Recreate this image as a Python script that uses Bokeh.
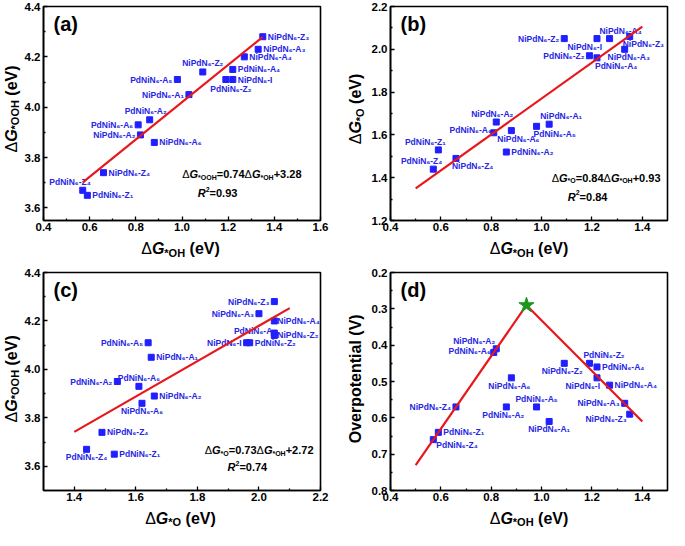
import math
from bokeh.plotting import figure
from bokeh.models import ColumnDataSource, Label, FixedTicker, PrintfTickFormatter, Range1d
from bokeh.layouts import column, row
from bokeh.embed import file_html
from bokeh.resources import INLINE
from bokeh.core.properties import value, field

FONT = "Liberation Sans"
BLUE = "#1f1fff"
BLUE_TXT = "#2626e6"
RED = "#e8171c"
GREEN = "#1e961e"

# ---------------- data ----------------
names = ["NiPdN₆-Z₃", "NiPdN₆-A₃", "NiPdN₆-A₄", "PdNiN₆-A₄", "NiPdN₆-I", "PdNiN₆-Z₂",
         "NiPdN₆-Z₂", "PdNiN₆-A₅", "NiPdN₆-A₁", "PdNiN₆-A₂", "PdNiN₆-A₆", "NiPdN₆-A₂",
         "NiPdN₆-A₆", "NiPdN₆-Z₄", "PdNiN₆-Z₄", "PdNiN₆-Z₁"]

# panel (a): dG*OH vs dG*OOH
a_x = [1.35, 1.33, 1.27, 1.22, 1.22, 1.19, 1.09, 0.98, 1.03, 0.86, 0.81, 0.82, 0.88, 0.66, 0.57, 0.59]
a_y = [4.28, 4.23, 4.20, 4.15, 4.11, 4.11, 4.14, 4.11, 4.05, 3.95, 3.93, 3.89, 3.86, 3.74, 3.67, 3.65]
# panel (b): dG*OH vs dG*O
b_x = [1.35, 1.33, 1.27, 1.22, 1.22, 1.19, 1.09, 0.98, 1.03, 0.86, 0.81, 0.82, 0.88, 0.66, 0.57, 0.59]
b_y = [2.06, 2.00, 2.05, 1.96, 2.05, 1.97, 2.05, 1.64, 1.65, 1.52, 1.61, 1.66, 1.62, 1.49, 1.44, 1.53]
# panel (c): dG*O vs dG*OOH
c_x = [2.05, 2.00, 2.05, 2.05, 1.96, 1.97, 2.05, 1.64, 1.65, 1.54, 1.61, 1.66, 1.62, 1.49, 1.44, 1.53]
c_y = [4.28, 4.23, 4.20, 4.15, 4.11, 4.11, 4.14, 4.11, 4.05, 3.95, 3.93, 3.89, 3.86, 3.74, 3.67, 3.65]
# panel (d): dG*OH vs overpotential
d_x = [1.35, 1.33, 1.27, 1.22, 1.22, 1.19, 1.09, 0.98, 1.03, 0.86, 0.81, 0.82, 0.88, 0.66, 0.57, 0.59]
d_y = [0.59, 0.56, 0.51, 0.46, 0.49, 0.45, 0.45, 0.57, 0.61, 0.57, 0.42, 0.41, 0.49, 0.57, 0.66, 0.64]

# linear fits (slope, intercept, x-from, x-to)
fit_a = [0.74, 3.28, 0.57, 1.35]
fit_b = [0.84, 0.93, 0.50, 1.40]
fit_c = [0.73, 2.72, 1.40, 2.10]
# volcano lines and apex
volcano_x = [0.50, 0.94, 1.40]
volcano_y = [0.73, 0.29, 0.61]
apex_x = [0.94]
apex_y = [0.29]

# ticks
a_xt, a_xm = [0.4, 0.6, 0.8, 1.0, 1.2, 1.4, 1.6], [0.5, 0.7, 0.9, 1.1, 1.3, 1.5]
a_yt, a_ym = [3.6, 3.8, 4.0, 4.2, 4.4], [3.7, 3.9, 4.1, 4.3]
b_xt, b_xm = [0.4, 0.6, 0.8, 1.0, 1.2, 1.4], [0.5, 0.7, 0.9, 1.1, 1.3]
b_yt, b_ym = [1.2, 1.4, 1.6, 1.8, 2.0, 2.2], [1.3, 1.5, 1.7, 1.9, 2.1]
c_xt, c_xm = [1.4, 1.6, 1.8, 2.0, 2.2], [1.5, 1.7, 1.9, 2.1]
c_yt, c_ym = [3.6, 3.8, 4.0, 4.2, 4.4], [3.7, 3.9, 4.1, 4.3]
d_xt, d_xm = [0.4, 0.6, 0.8, 1.0, 1.2, 1.4], [0.5, 0.7, 0.9, 1.1, 1.3]
d_yt, d_ym = [0.2, 0.3, 0.4, 0.5, 0.6, 0.7, 0.8], [0.25, 0.35, 0.45, 0.55, 0.65, 0.75]

# label placement (align, dx px, dy px up)
R, L = ("left", 5, 0), ("right", -5, 0)
a_off = [R, R, R, R, R, ("center", 5, -9), ("center", 0, 9), L, L, ("center", -4, 9),
         L, L, R, R, ("right", 8, 8), R]
b_off = [("left", -7, -8), ("center", 4, -8), ("center", 11, 8), ("left", -2, -8), ("right", 5, -8),
         L, L, ("left", -3, -8), ("center", 12, 8), R, ("right", -2, 3), ("center", -4, 8),
         ("center", 7, -8), ("left", -4, -8), ("right", 9, 8), ("center", -13, 8)]
c_off = [L, L, ("left", 3, 0), ("right", 2, 2), ("right", -5, 0), R, ("left", 3, 0), L, R, L,
         ("center", 0, 8), R, ("center", 0, -8), R, ("center", 0, -8), R]
d_off = [("right", -3, -5), L, R, R, ("right", 3, -8), ("left", -6, 8), ("center", -2, -8),
         ("center", 0, 8), ("center", 0, -8), ("center", -3, -8), ("right", -3, 1), ("right", -1, 8),
         ("center", -2, -8), L, ("left", 3, -5), ("left", 5, 0)]

# ---------------- helpers ----------------
CW = {"Δ": 0.667, "G": 0.778, "*": 0.389, "O": 0.778, "H": 0.722, " ": 0.278, "(": 0.333,
      ")": 0.333, "e": 0.556, "V": 0.667, "=": 0.584, "+": 0.584, ".": 0.278, "R": 0.722}


def tw(s, size):
    return sum(CW.get(c, 0.556) for c in s) * size


def rich(p, x, y, segs, align="left", angle=0.0, xo=0, yo=0):
    widths = [tw(t, s) for t, s, st, dy in segs]
    total = sum(widths)
    cur = {"left": 0, "center": -total / 2, "right": -total}[align]
    for (t, s, st, dy), w in zip(segs, widths):
        lead = tw(t[:len(t) - len(t.lstrip(" "))], s)
        pos = cur + lead
        if angle == 0:
            ox, oy = xo + pos, yo + dy
        else:
            ox, oy = xo - dy, yo + pos
        p.add_layout(Label(x=x, y=y, x_offset=ox, y_offset=oy, text=t.lstrip(" "), text_font=FONT,
                           text_font_size=f"{s}px", text_font_style=st, text_align="left",
                           text_baseline="middle", angle=angle, text_color="black"))
        cur += w


def dg(sub, S=16, s=11, tail=" (eV)"):
    return [("Δ", S, "normal", 0), ("G", S, "bold italic", 0), (sub, s, "bold", -0.28 * S),
            (tail, S, "bold", 0)]


def make_fig(w, h, bl, br, bt, bb, xr, yr, xt, xm, yt, ym):
    p = figure(width=w, height=h, x_range=Range1d(*xr), y_range=Range1d(*yr),
               output_backend="svg", toolbar_location=None,
               min_border_left=bl, min_border_right=br, min_border_top=bt, min_border_bottom=bb)
    p.grid.visible = False
    p.outline_line_color = "black"
    p.outline_line_width = 1.6
    for ax, t, m in ((p.xaxis[0], xt, xm), (p.yaxis[0], yt, ym)):
        ax.ticker = FixedTicker(ticks=t, minor_ticks=m)
        ax.formatter = PrintfTickFormatter(format="%.1f")
        ax.major_tick_in = 4
        ax.major_tick_out = 0
        ax.minor_tick_in = 2
        ax.minor_tick_out = 0
        ax.axis_line_width = 1.6
        ax.major_tick_line_width = 1.3
        ax.minor_tick_line_width = 1.3
        ax.major_label_text_font = FONT
        ax.major_label_text_font_style = "bold"
        ax.major_label_text_font_size = "11.5px"
        ax.major_label_text_color = "black"
    p.xaxis.major_label_standoff = 2
    p.yaxis.major_label_standoff = 3
    return p


def label_fig(w, h):
    f = figure(width=w, height=h, x_range=Range1d(0, w), y_range=Range1d(0, h),
               output_backend="svg", toolbar_location=None, x_axis_type=None, y_axis_type=None,
               min_border=0)
    f.outline_line_color = None
    return f


def tag(p, text):
    p.add_layout(Label(x=p.x_range.start, y=p.y_range.end, x_offset=10, y_offset=-6, text=text,
                       text_font=FONT, text_font_size="20px", text_font_style="bold",
                       text_align="left", text_baseline="top", text_color="black"))


def points(p, xs, ys, offs):
    p.scatter(xs, ys, marker="square", size=6, color=BLUE)
    src = ColumnDataSource(dict(x=xs, y=ys, text=names, align=[o[0] for o in offs],
                                dx=[o[1] for o in offs], dy=[-o[2] for o in offs]))
    p.text(x="x", y="y", text="text", source=src, x_offset="dx", y_offset="dy",
           text_align=field("align"), text_baseline="middle", text_font=value(FONT),
           text_font_size="8.5px", text_font_style="bold", text_color=BLUE_TXT)


def fit_line(p, fit):
    m, b, x0, x1 = fit
    p.line([x0, x1], [m * x0 + b, m * x1 + b], color=RED, line_width=2.2)


def equation(p, y, lhs_sub, coef, intercept, margin, r2, r2x, r2y, S=11, s=7):
    segs = [("Δ", S, "normal", 0), ("G", S, "bold italic", 0), (lhs_sub, s, "bold", -3),
            (f"={coef}", S, "bold", 0), ("Δ", S, "normal", 0), ("G", S, "bold italic", 0),
            ("*OH", s, "bold", -3), (f"+{intercept}", S, "bold", 0)]
    rich(p, p.x_range.end, y, segs, align="right", xo=-margin)
    rich(p, r2x, r2y, [("R", S, "bold italic", 0), ("2", s, "bold", 4), (f"={r2}", S, "bold", 0)])


def assemble(main, mw, mh, bl, bt, fw, fh, ylw, ylab, ylab_cx, xlab, xlh, xlab_cy):
    yl = label_fig(ylw, mh)
    cy = mh - bt - fh / 2
    if isinstance(ylab, str):
        yl.add_layout(Label(x=ylab_cx, y=cy, text=ylab, text_font=FONT, text_font_size="16px",
                            text_font_style="bold", text_align="center", text_baseline="middle",
                            angle=math.pi / 2, text_color="black"))
    else:
        rich(yl, ylab_cx, cy, ylab, align="center", angle=math.pi / 2)
    xl = label_fig(ylw + mw, xlh)
    rich(xl, ylw + bl + fw / 2, xlab_cy, xlab, align="center")
    return column(row(yl, main), xl)


# ---------------- panels ----------------
# top-left (a)
pa = make_fig(319, 236, 19, 20, 6, 16, (0.4, 1.6), (3.55, 4.4), a_xt, a_xm, a_yt, a_ym)
points(pa, a_x, a_y, a_off)
fit_line(pa, fit_a)
equation(pa, 3.734, "*OOH", "0.74", "3.28", 19, "0.93", 1.068, 3.659)
tag(pa, "(a)")
A = assemble(pa, 319, 236, 19, 6, 280, 214, 21, dg("*OOH"), 10.5, dg("*OH"), 26, 14)

# top-right (b)
pb = make_fig(301, 236, 22, 2, 6, 16, (0.4, 1.5), (1.2, 2.2), b_xt, b_xm, b_yt, b_ym)
points(pb, b_x, b_y, b_off)
fit_line(pb, fit_b)
equation(pb, 1.40, "*O", "0.84", "0.93", 7, "0.84", 1.104, 1.311)
tag(pb, "(b)")
B = assemble(pb, 301, 236, 22, 6, 277, 214, 28, dg("*O"), 15, dg("*OH"), 26, 14)

# bottom-left (c)
pc = make_fig(319, 244, 19, 20, 10, 16, (1.3, 2.2), (3.5, 4.4), c_xt, c_xm, c_yt, c_ym)
points(pc, c_x, c_y, c_off)
fit_line(pc, fit_c)
equation(pc, 3.667, "*O", "0.73", "2.72", 7, "0.74", 1.898, 3.595)
tag(pc, "(c)")
C = assemble(pc, 319, 244, 19, 10, 280, 218, 21, dg("*OOH"), 10.5, dg("*O"), 24, 12.5)

# bottom-right (d)
pd = make_fig(301, 244, 22, 2, 10, 16, (0.4, 1.5), (0.8, 0.2), d_xt, d_xm, d_yt, d_ym)
points(pd, d_x, d_y, d_off)
pd.line(volcano_x, volcano_y, color=RED, line_width=2.2)
pd.scatter(apex_x, apex_y, marker="star", size=16, color=GREEN)
tag(pd, "(d)")
D = assemble(pd, 301, 244, 22, 10, 277, 218, 28, "Overpotential (V)", 15, dg("*OH"), 24, 12.5)

layout = column(row(A, B), row(C, D))
open("out.html", "w").write(file_html(layout, INLINE))
